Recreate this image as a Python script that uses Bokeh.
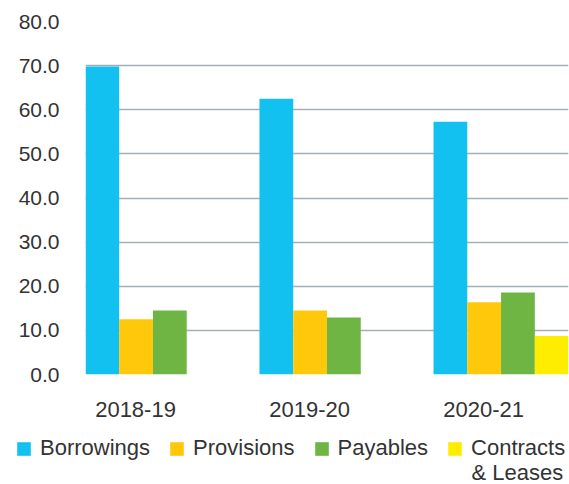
from bokeh.plotting import figure
from bokeh.layouts import column
from bokeh.models import (ColumnDataSource, Range1d, FixedTicker, NumeralTickFormatter,
                          Legend, LegendItem, Label)
from bokeh.transform import dodge
from bokeh.embed import file_html
from bokeh.resources import INLINE

# ---- data ----
years = ["2018-19", "2019-20", "2020-21"]
borrowings = [69.8, 62.5, 57.3]
provisions = [12.5, 14.5, 16.4]
payables = [14.5, 12.9, 18.6]
contracts = [0.0, 0.0, 8.7]
series_labels = ["Borrowings", "Provisions", "Payables", "Contracts"]
contracts_label_line2 = "& Leases"
series_fields = ["borrowings", "provisions", "payables", "contracts"]
colors = ["#13C1F1", "#FFC80B", "#6EB543", "#FFED00"]
y_ticks = [0, 10, 20, 30, 40, 50, 60, 70, 80]

idx = list(range(len(years)))
src = ColumnDataSource(dict(x=idx, borrowings=borrowings, provisions=provisions,
                            payables=payables, contracts=contracts))

BAR_W = 0.194
SHIFT = 0.1
FONT = "Liberation Sans"
TXT = "#333333"

p = figure(width=569, height=428, output_backend="svg", toolbar_location=None,
           x_range=Range1d(-0.2875, 2.4875), y_range=Range1d(0, 80),
           min_border_left=85, min_border_right=1, min_border_top=21, min_border_bottom=54)
p.outline_line_color = None
p.frame_align = False

for k, (field, color) in enumerate(zip(series_fields, colors)):
    p.vbar(x=dodge("x", (k - 1.5) * BAR_W + SHIFT, range=p.x_range), top=field,
           width=BAR_W, source=src, fill_color=color, line_color=None)

# axes
p.yaxis.ticker = FixedTicker(ticks=y_ticks)
p.yaxis.formatter = NumeralTickFormatter(format="0.0")
p.yaxis.major_label_standoff = 26
p.yaxis.major_label_text_font_size = "21px"
p.xaxis.ticker = FixedTicker(ticks=idx)
p.xaxis.major_label_overrides = {i: y for i, y in zip(idx, years)}
p.xaxis.major_label_standoff = 27
p.xaxis.major_label_text_font_size = "22px"
for ax in (p.xaxis[0], p.yaxis[0]):
    ax.axis_line_color = None
    ax.major_tick_line_color = None
    ax.minor_tick_line_color = None
    ax.major_tick_out = 0
    ax.major_tick_in = 0
    ax.major_label_text_font = FONT
    ax.major_label_text_color = TXT

p.xgrid.visible = False
p.ygrid.grid_line_color = "#a3aeb8"
p.ygrid.grid_line_width = 1.5

# ---- legend strip ----
lf = figure(width=569, height=56, output_backend="svg", toolbar_location=None,
            x_range=Range1d(0, 1), y_range=Range1d(0, 1), min_border=0)
lf.frame_align = False
lf.axis.visible = False
lf.grid.visible = False
lf.outline_line_color = None
proxy = ColumnDataSource(dict(x=[5.0], top=[1.0]))  # legend proxies, outside the visible range
items = []
for lab, color in zip(series_labels, colors):
    r = lf.vbar(x="x", top="top", width=0.1, source=proxy, fill_color=color, line_color=None)
    items.append(LegendItem(label=lab, renderers=[r]))

legend = Legend(items=items, orientation="horizontal", location=(15, 23),
                glyph_width=17, glyph_height=17, label_standoff=8, spacing=18,
                padding=0, margin=0, border_line_color=None, background_fill_alpha=0,
                label_text_font=FONT, label_text_font_size="22px", label_text_color=TXT)
lf.add_layout(legend, "center")
lf.add_layout(Label(x=471, y=0, x_units="screen", y_units="screen", text=contracts_label_line2,
                    text_font=FONT, text_font_size="22px", text_color=TXT))

open("out.html", "w").write(file_html(column(p, lf, spacing=0), INLINE))
